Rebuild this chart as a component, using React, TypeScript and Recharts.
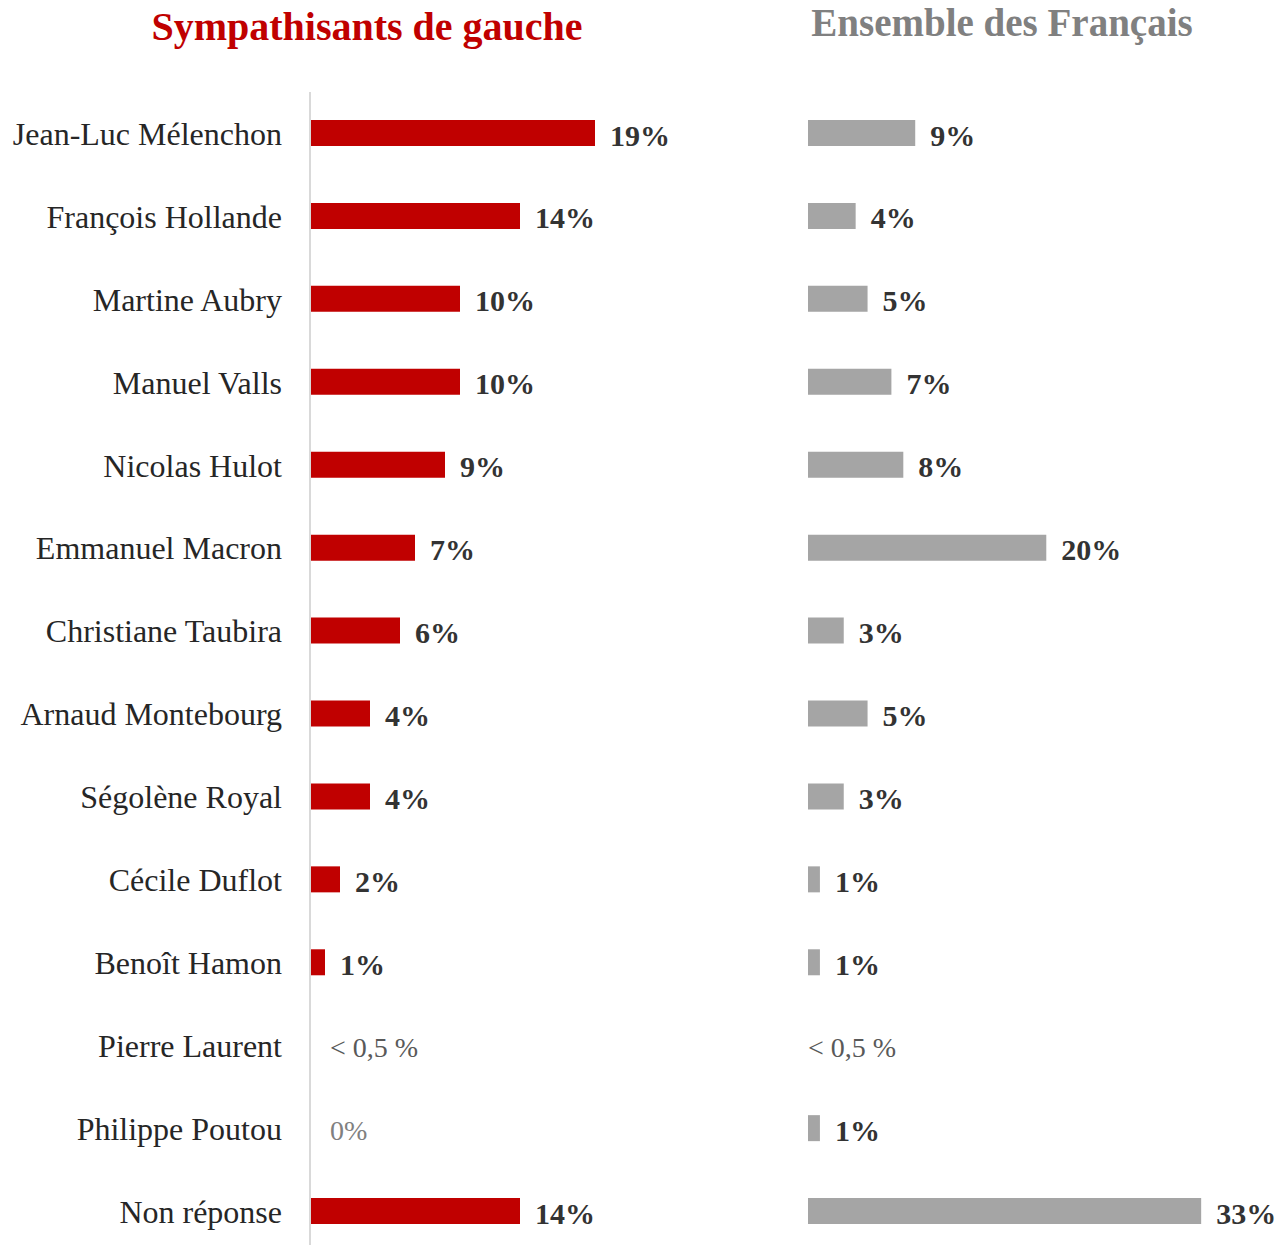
import { Bar, BarChart, Cell, LabelList, XAxis, YAxis } from "recharts";

const candidates = [
  "Jean-Luc Mélenchon",
  "François Hollande",
  "Martine Aubry",
  "Manuel Valls",
  "Nicolas Hulot",
  "Emmanuel Macron",
  "Christiane Taubira",
  "Arnaud Montebourg",
  "Ségolène Royal",
  "Cécile Duflot",
  "Benoît Hamon",
  "Pierre Laurent",
  "Philippe Poutou",
  "Non réponse",
];

const gaucheValues = [19, 14, 10, 10, 9, 7, 6, 4, 4, 2, 1, 0, 0, 14];
const gaucheLabels = [
  "19%", "14%", "10%", "10%", "9%", "7%", "6%", "4%", "4%", "2%", "1%", "< 0,5 %", "0%", "14%",
];

const francaisValues = [9, 4, 5, 7, 8, 20, 3, 5, 3, 1, 1, 0, 1, 33];
const francaisLabels = [
  "9%", "4%", "5%", "7%", "8%", "20%", "3%", "5%", "3%", "1%", "1%", "< 0,5 %", "1%", "33%",
];

const rows = candidates.map((name, i) => ({
  name,
  gauche: gaucheValues[i],
  gaucheLabel: gaucheLabels[i],
  francais: francaisValues[i],
  francaisLabel: francaisLabels[i],
}));

const FONT = "'Liberation Serif', 'Times New Roman', serif";

function makeValueLabel(smallOffset: number) {
  return (props: any) => {
    const { x, y, width, height, value } = props;
    const text = String(value);
    const isSmall = text.startsWith("<") || text === "0%";
    const lx = isSmall ? Number(x) + smallOffset : Number(x) + Number(width) + 15;
    const ly = Number(y) + Number(height) / 2 + 2;
    return (
      <text
        x={lx}
        y={ly}
        dominantBaseline="central"
        fontFamily={FONT}
        fontSize={isSmall ? 28 : 30}
        fontWeight={isSmall ? "normal" : "bold"}
        fill={isSmall ? (text === "0%" ? "#808080" : "#595959") : "#333333"}
      >
        {text}
      </text>
    );
  };
}

export default function App() {
  return (
    <div
      style={{
        position: "absolute",
        left: 0,
        top: 0,
        width: 1282,
        height: 1245,
        overflow: "hidden",
        background: "#ffffff",
        fontFamily: FONT,
      }}
    >
      <div
        style={{
          position: "absolute",
          left: 117,
          top: 7,
          width: 500,
          textAlign: "center",
          fontSize: 40,
          lineHeight: "40px",
          fontWeight: "bold",
          color: "#C00000",
        }}
      >
        Sympathisants de gauche
      </div>
      <div
        style={{
          position: "absolute",
          left: 752,
          top: 3,
          width: 500,
          textAlign: "center",
          fontSize: 39,
          lineHeight: "39px",
          fontWeight: "bold",
          color: "#808080",
        }}
      >
        Ensemble des Français
      </div>

      <div style={{ position: "absolute", left: 0, top: 0 }}>
        <BarChart
          width={775}
          height={1260}
          data={rows}
          layout="vertical"
          margin={{ top: 92, right: 0, left: 0, bottom: 7 }}
        >
          <XAxis type="number" domain={[0, 31]} hide />
          <YAxis
            dataKey="name"
            type="category"
            width={310}
            tickSize={0}
            tickLine={false}
            tickMargin={28}
            axisLine={{ stroke: "#d9d9d9", strokeWidth: 2 }}
            tick={{ fontSize: 32, fill: "#262626", fontFamily: FONT }}
            interval={0}
          />
          <Bar
            dataKey="gauche"
            fill="#C00000"
            barSize={26}
            minPointSize={1}
            isAnimationActive={false}
          >
            {rows.map((r, i) => (
              <Cell key={i} fill={r.gauche === 0 ? "transparent" : "#C00000"} />
            ))}
            <LabelList dataKey="gaucheLabel" content={makeValueLabel(20)} />
          </Bar>
        </BarChart>
      </div>

      <div style={{ position: "absolute", left: 808, top: 0 }}>
        <BarChart
          width={474}
          height={1260}
          data={rows}
          layout="vertical"
          margin={{ top: 92, right: 57, left: 0, bottom: 7 }}
        >
          <XAxis type="number" domain={[0, 35]} hide />
          <YAxis dataKey="name" type="category" hide />
          <Bar
            dataKey="francais"
            fill="#A5A5A5"
            barSize={26}
            minPointSize={1}
            isAnimationActive={false}
          >
            {rows.map((r, i) => (
              <Cell key={i} fill={r.francais === 0 ? "transparent" : "#A5A5A5"} />
            ))}
            <LabelList dataKey="francaisLabel" content={makeValueLabel(0)} />
          </Bar>
        </BarChart>
      </div>
    </div>
  );
}
